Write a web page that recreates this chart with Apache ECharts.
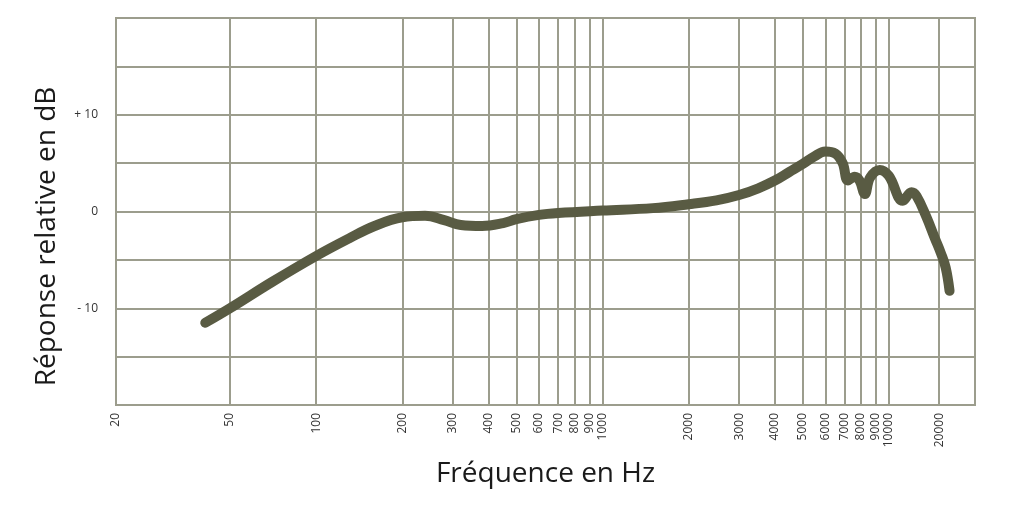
<!DOCTYPE html>
<html>
<head>
<meta charset="utf-8">
<script src="https://cdn.jsdelivr.net/npm/echarts@6/dist/echarts.min.js"></script>
<style>html,body{margin:0;padding:0;background:#fff;}#c{width:1024px;height:517px;}</style>
</head>
<body>
<div id="c"></div>
<script>
// Frequency (Hz) and relative response (dB)
const freqs = [41, 50, 70, 100, 130, 160, 200, 240, 280, 320, 380, 450, 500, 600, 700, 1000, 1500, 2000, 2500, 3000, 3500, 4000, 4500, 5000, 5500, 6000, 6500, 6900, 7200, 7600, 7900, 8250, 8600, 9300, 10000, 11200, 12000, 12500, 13500, 14500, 15200, 15800, 16300];
const response = [-11.5, -10.0, -7.3, -4.6, -2.8, -1.5, -0.6, -0.45, -0.9, -1.4, -1.5, -1.2, -0.8, -0.35, -0.15, 0.1, 0.35, 0.75, 1.15, 1.7, 2.4, 3.2, 4.1, 4.9, 5.7, 6.2, 6.0, 5.0, 3.2, 3.6, 3.2, 1.8, 3.5, 4.3, 3.7, 1.1, 2.0, 1.6, -0.5, -2.8, -4.3, -5.8, -8.2];
// Vertical grid positions (the reference draws its "20000" line where ~15000 Hz falls)
const xTickValues = [20, 50, 100, 200, 300, 400, 500, 600, 700, 800, 900, 1000, 2000, 3000, 4000, 5000, 6000, 7000, 8000, 9000, 10000, 15000];
const xTickLabels = ['20', '50', '100', '200', '300', '400', '500', '600', '700', '800', '900', '1000', '2000', '3000', '4000', '5000', '6000', '7000', '8000', '9000', '10000', '20000'];
const yLabels = { '10': '+ 10', '0': '0', '-10': '- 10' };

const gridColor = '#9c9d8d';
const lineColor = '#595b43';

const chart = echarts.init(document.getElementById('c'), null, { renderer: 'canvas' });
chart.setOption({
  animation: false,
  backgroundColor: '#ffffff',
  textStyle: { fontFamily: 'Open Sans' },
  grid: { left: 116, right: 49, top: 18, bottom: 112, show: true, borderColor: gridColor, borderWidth: 2, backgroundColor: 'transparent' },
  xAxis: {
    type: 'log', logBase: 10, min: 20, max: 20000,
    name: 'Fréquence en Hz', nameLocation: 'middle', nameGap: 55,
    nameTextStyle: { fontSize: 28, color: '#1a1a1a', fontFamily: 'Open Sans' },
    axisLine: { show: true, lineStyle: { color: gridColor, width: 2 } },
    axisTick: { show: false, customValues: xTickValues },
    axisLabel: {
      customValues: xTickValues, rotate: 90, fontSize: 12, color: '#333', margin: 8,
      fontFamily: 'Open Sans',
      formatter: function (v) { const i = xTickValues.indexOf(Math.round(v)); return i >= 0 ? xTickLabels[i] : ''; }
    },
    splitLine: { show: true, lineStyle: { color: gridColor, width: 2 } },
    minorTick: { show: false }, minorSplitLine: { show: false }
  },
  yAxis: {
    type: 'value', min: -20, max: 20, interval: 5,
    name: 'Réponse relative en dB', nameLocation: 'middle', nameGap: 55,
    nameTextStyle: { fontSize: 28, color: '#1a1a1a', fontFamily: 'Open Sans', padding: [0, 50, 0, 0] },
    axisLine: { show: true, lineStyle: { color: gridColor, width: 2 } },
    axisTick: { show: false },
    axisLabel: { fontSize: 12, color: '#333', margin: 18, fontFamily: 'Open Sans',
      formatter: function (v) { return yLabels[String(v)] || ''; } },
    splitLine: { show: true, lineStyle: { color: gridColor, width: 2 } }
  },
  series: [{
    type: 'line',
    data: freqs.map((f, i) => [f, response[i]]),
    smooth: 0.4,
    symbol: 'none',
    lineStyle: { color: lineColor, width: 10, cap: 'round', join: 'round' }
  }]
});
</script>
</body>
</html>
